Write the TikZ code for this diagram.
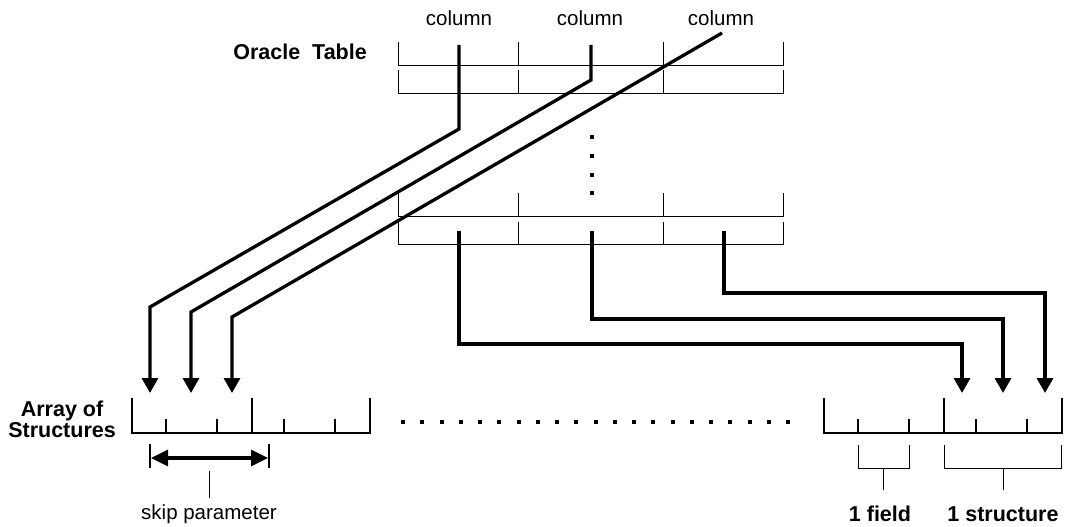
\documentclass[tikz,border=0pt]{standalone}
\usepackage{fontspec}
\setmainfont{Liberation Sans}
\usetikzlibrary{arrows.meta}
\begin{document}
\begin{tikzpicture}[x=1pt,y=-1pt,
  thin line/.style={line width=1pt},
  arr line/.style={line width=1.4pt},
  conn/.style={line width=3.3pt, line join=miter, -{Triangle[width=16pt,length=15pt]}},
  lbl/.style={font=\fontsize{20.5}{24}\selectfont, inner sep=0pt},
  blbl/.style={font=\fontsize{21.5}{21}\selectfont\bfseries, inner sep=0pt},
  dot/.style={fill=black, minimum size=4pt, inner sep=0pt, draw=none, rectangle}]
\useasboundingbox (0,0) rectangle (1073,527);

% ---- labels
\node[lbl] (col1) at (459,18) {column};
\node[lbl] (col2) at (590,18) {column};
\node[lbl] (col3) at (721,18) {column};
\node[blbl, anchor=east] (ot) at (367,52) {Oracle\ \ Table};
\node[blbl, anchor=east, align=center] (aos) at (116,419) {Array of\\Structures};
\node[lbl] (skip) at (209,514) {skip parameter};
\node[blbl] (fld) at (880,514) {1 field};
\node[blbl] (str) at (1003,514) {1 structure};

% ---- Oracle table rows
\foreach \t/\b in {42/66, 70/93, 193/216, 222/244}{
  \draw[thin line] (398,\t) -- (398,\b) -- (783,\b) -- (783,\t);
  \draw[thin line] (518,\t) -- (518,\b);
  \draw[thin line] (663,\t) -- (663,\b);
}
% vertical dots
\foreach \y [count=\i] in {137,156,175,193}
  \node[dot] (vd\i) at (592,\y) {};

% ---- Array of structures
\foreach \x in {132,824}{
  \begin{scope}[xshift=\x pt - 132pt]
    \draw[arr line] (132,398) -- (132,433) -- (370,433) -- (370,398);
    \draw[arr line] (252,398) -- (252,433);
    \foreach \s in {166,217,284,335}
      \draw[arr line] (\s,419) -- (\s,433);
  \end{scope}
}
% horizontal dots
\foreach \i in {0,...,20}
  \node[dot] (hd\i) at ({403+\i*19.25},422) {};

% ---- connectors from top rows
\coordinate (a1) at (459,45);  \coordinate (a1b) at (459,129);
\coordinate (a1c) at (150,307); \coordinate (t1) at (150,393);
\coordinate (a2) at (591,45);  \coordinate (a2b) at (591,80);
\coordinate (a2c) at (191,312); \coordinate (t2) at (191,393);
\coordinate (a3) at (722,33);
\coordinate (a3c) at (232,317); \coordinate (t3) at (232,393);
\draw[conn] (a1) -- (a1b) -- (a1c) -- (t1);
\draw[conn] (a2) -- (a2b) -- (a2c) -- (t2);
\draw[conn] (a3) -- (a3c) -- (t3);

% ---- connectors from bottom row
\coordinate (b1) at (459,231); \coordinate (u1) at (962,393);
\coordinate (b2) at (592,231); \coordinate (u2) at (1003,393);
\coordinate (b3) at (724,231); \coordinate (u3) at (1045,393);
\draw[conn] (b1) -- (459,344) -| (u1);
\draw[conn] (b2) -- (592,319) -| (u2);
\draw[conn] (b3) -- (724,293) -| (u3);

% ---- skip parameter
\draw[arr line] (150,444) -- (150,468);
\draw[arr line] (269,444) -- (269,468);
\coordinate (sl) at (151,458); \coordinate (sr) at (268,458);
\draw[line width=3.3pt, {Triangle[width=16pt,length=17pt]}-{Triangle[width=16pt,length=17pt]}] (sl) -- (sr);
\draw[thin line] (209,471) -- (209,498);

% ---- 1 field / 1 structure brackets
\draw[thin line] (858,445) -- (858,468) -- (909,468) -- (909,445);
\draw[thin line] (883,468) -- (883,490);
\draw[thin line] (944,445) -- (944,468) -- (1061,468) -- (1061,445);
\draw[thin line] (1003,468) -- (1003,490);
\end{tikzpicture}
\end{document}
